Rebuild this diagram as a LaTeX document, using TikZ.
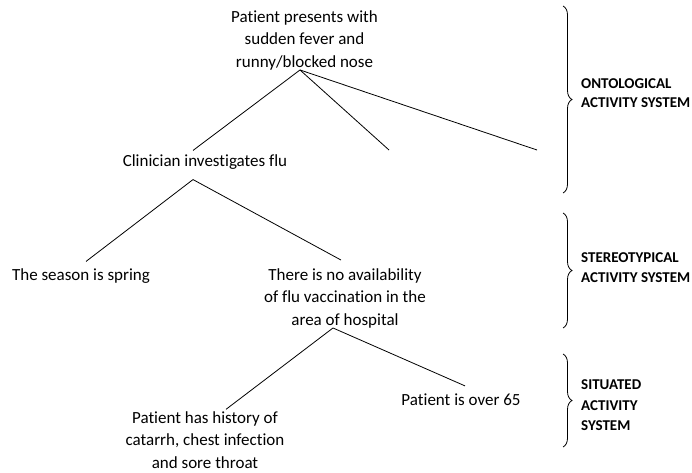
\documentclass[tikz,border=0pt]{standalone}
\usepackage{fontspec}
\setmainfont{Carlito}[BoldFont={Carlito Bold}, Ligatures={NoCommon}]
\usetikzlibrary{decorations.pathreplacing}
\begin{document}
\begin{tikzpicture}[x=1pt,y=-1pt,
  item/.style={inner sep=0pt, align=center, font=\fontsize{17}{22.5}\selectfont},
  tag/.style={inner sep=0pt, anchor=west, align=left, font=\bfseries\fontsize{15}{19}\selectfont},
  link/.style={line width=0.8pt},
  bracket/.style={line width=0.8pt, decorate, decoration={brace, amplitude=9pt}}]
\useasboundingbox (0,0) rectangle (692,472);

% decision tree
\node[item] (top) at (304.5,40) {Patient presents with\\sudden fever and\\runny/blocked nose};
\node[item] (clin) at (205,162) {Clinician investigates flu};
\node[item] (season) at (81,276) {The season is spring};
\node[item] (vacc) at (345,298) {There is no availability\\of flu vaccination in the\\area of hospital};
\node[item] (hist) at (205,440) {Patient has history of\\catarrh, chest infection\\and sore throat};
\node[item] (age) at (461,400) {Patient is over 65};
\coordinate (open1) at (389,150);
\coordinate (open2) at (537,150);

\draw[link] ([xshift=-4.5pt]top.south) -- ([shift={(-12pt,4pt)}]clin.north);
\draw[link] ([xshift=-4.5pt]top.south) -- (open1);
\draw[link] ([xshift=-4.5pt]top.south) -- (open2);
\draw[link] ([shift={(-12pt,-10pt)}]clin.south) -- ([shift={(5pt,7pt)}]season.north);
\draw[link] ([shift={(-12pt,-10pt)}]clin.south) -- ([shift={(-4pt,8pt)}]vacc.north);
\draw[link] ([xshift=-12pt]vacc.south) -- ([shift={(21pt,2pt)}]hist.north);
\draw[link] ([xshift=-12pt]vacc.south) -- ([shift={(4pt,8pt)}]age.north);

% activity system braces
\draw[bracket] (563,6) -- (563,193);
\draw[bracket] (563,213) -- (563,328);
\draw[bracket] (563,354) -- (563,447);

\node[tag] (onto) at (581,93) {ONTOLOGICAL\\ACTIVITY SYSTEM};
\node[tag, font=\bfseries\fontsize{15}{20}\selectfont] (stereo) at (581,268) {STEREOTYPICAL\\ACTIVITY SYSTEM};
\node[tag, font=\bfseries\fontsize{15}{20.5}\selectfont] (situ) at (581,405.5) {SITUATED\\ACTIVITY\\SYSTEM};
\end{tikzpicture}
\end{document}
